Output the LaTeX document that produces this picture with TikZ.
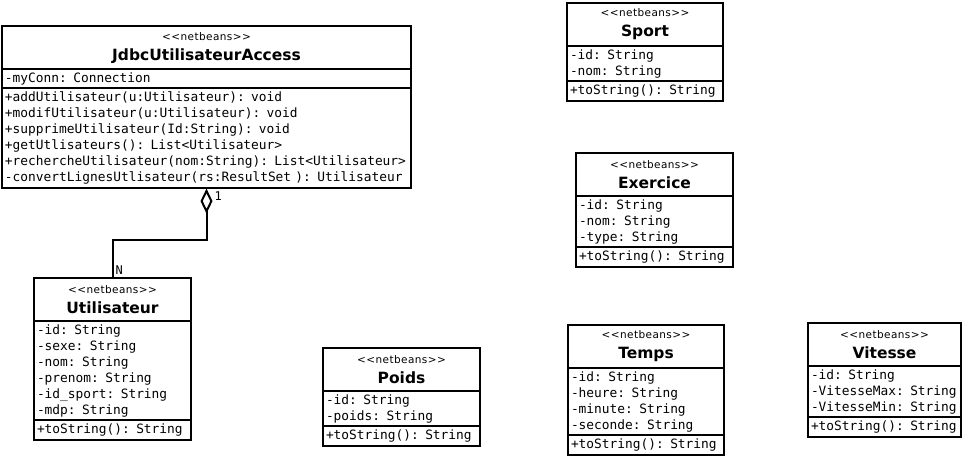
\documentclass[tikz,border=0pt]{standalone}
\usepackage{fontspec}
\setsansfont{DejaVu Sans}
\setmonofont{DejaVu Sans Mono}
\newfontfamily\stereofont{DejaVu Sans}[LetterSpace=4]
\usetikzlibrary{shapes.multipart,arrows.meta}

\newcommand\entete[1]{\parbox[b][40pt][c]{\hsize}{\centering
    {\stereofont\fontsize{10.5}{12}\selectfont <{}<netbeans>{}>\par}
    {\sffamily\bfseries\fontsize{15.5}{20}\selectfont #1\par}}}
\newcommand\ligne{\rule[-4.5pt]{0pt}{16pt}}

\begin{document}
\begin{tikzpicture}[x=1pt,y=-1pt,
    classe/.style={rectangle split, rectangle split parts=3, draw, line width=2pt,
        anchor=north west, inner xsep=3pt, inner ysep=0.6pt, align=left,
        font=\ttfamily\fontsize{12.85}{16}\selectfont},
    mult/.style={inner sep=0pt, font=\ttfamily\fontsize{12}{14}\selectfont},
    agreg/.style={line width=2pt, {Diamond[open,length=25pt,width=12pt]}-}]
    \useasboundingbox (0,0) rectangle (964,459);

    \node[classe, text width=403pt] (jdbc) at (1,25) {\entete{JdbcUtilisateurAccess}
        \nodepart{two}\ligne-myConn: Connection
        \nodepart{three}\ligne+addUtilisateur(u:Utilisateur): void\\
        \ligne+modifUtilisateur(u:Utilisateur): void\\
        \ligne+supprimeUtilisateur(Id:String): void\\
        \ligne+getUtlisateurs(): List<Utilisateur>\\
        \ligne+rechercheUtilisateur(nom:String): List<Utilisateur>\\
        \ligne-convertLignesUtlisateur(rs:ResultSet ): Utilisateur};

    \node[classe, text width=151pt] (util) at (33,277) {\entete{Utilisateur}
        \nodepart{two}\ligne-id: String\\
        \ligne-sexe: String\\
        \ligne-nom: String\\
        \ligne-prenom: String\\
        \ligne-id\_sport: String\\
        \ligne-mdp: String
        \nodepart{three}\ligne+toString(): String};

    \node[classe, text width=150pt] (sport) at (566,2) {\entete{Sport}
        \nodepart{two}\ligne-id: String\\
        \ligne-nom: String
        \nodepart{three}\ligne+toString(): String};

    \node[classe, text width=151pt] (exercice) at (575,152) {\entete{Exercice}
        \nodepart{two}\ligne-id: String\\
        \ligne-nom: String\\
        \ligne-type: String
        \nodepart{three}\ligne+toString(): String};

    \node[classe, text width=151pt] (poids) at (322,347) {\entete{Poids}
        \nodepart{two}\ligne-id: String\\
        \ligne-poids: String
        \nodepart{three}\ligne+toString(): String};

    \node[classe, text width=150pt] (temps) at (567,324) {\entete{Temps}
        \nodepart{two}\ligne-id: String\\
        \ligne-heure: String\\
        \ligne-minute: String\\
        \ligne-seconde: String
        \nodepart{three}\ligne+toString(): String};

    \node[classe, text width=147pt] (vitesse) at (807,322) {\entete{Vitesse}
        \nodepart{two}\ligne-id: String\\
        \ligne-VitesseMax: String\\
        \ligne-VitesseMin: String
        \nodepart{three}\ligne+toString(): String};

    % agregation
    \draw[agreg] (jdbc.south) -- ++(0,51) -| (util.north);
    \node[mult, anchor=north west] (un) at ([xshift=8pt,yshift=-3pt]jdbc.south) {1};
    \node[mult, anchor=south west] (n) at ([xshift=3pt,yshift=2pt]util.north) {N};
\end{tikzpicture}
\end{document}
